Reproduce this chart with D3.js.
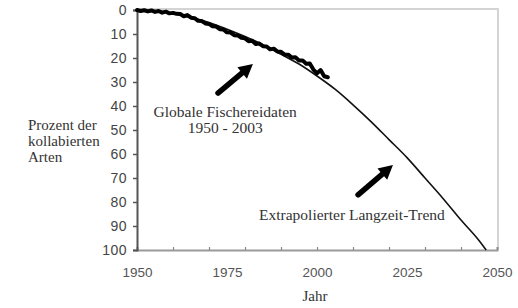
<!DOCTYPE html>
<html><head><meta charset="utf-8">
<script src="https://cdn.jsdelivr.net/npm/d3@7"></script>
<style>body{margin:0;background:#fff}svg{display:block}</style>
</head><body>
<svg id="c" width="518" height="308"></svg>
<script>
// Data
const dataYears = [1950,1951,1952,1953,1954,1955,1956,1957,1958,1959,1960,1961,1962,1963,1964,1965,1966,1967,1968,1969,1970,1971,1972,1973,1974,1975,1976,1977,1978,1979,1980,1981,1982,1983,1984,1985,1986,1987,1988,1989,1990,1991,1992,1993,1994,1995,1996,1997,1998,1999,2000,2001,2002,2003];
const dataPct   = [0,0.4,0.1,0.6,0.2,0.8,0.4,1.1,0.7,1.4,1.2,1.6,1.7,2.6,2.1,3.2,3.4,4.5,4.6,5.6,5.8,6.8,6.9,8.0,8.1,9.3,9.4,10.5,10.6,11.6,11.8,13.0,12.8,14.2,14.0,15.1,15.2,16.4,16.1,17.3,17.4,18.6,18.6,19.8,19.7,21.0,21.0,22.4,22.3,24.8,26.4,25.0,27.6,28.0];
const trendYears = [1950,1955,1960,1965,1970,1975,1980,1985,1990,1995,2000,2005,2010,2015,2020,2025,2030,2035,2040,2045,2047];
const trendPct   = [0,0.4,1.4,3,5.2,8,11,14.5,18.5,22.5,27.5,33,39.5,46.5,54,61.5,70,78.5,87.5,96,100];
const xTickYears = [1950,1960,1970,1980,1990,2000,2010,2020,2030,2040,2050];
const xLabelYears = [1950,1975,2000,2025,2050];
const yTicks = [0,10,20,30,40,50,60,70,80,90,100];
const yLabelLines = ["Prozent der","kollabierten","Arten"];
const xTitle = "Jahr";
// annotations: [text lines, year, pct]
const noteData = {lines:["Globale Fischereidaten","1950 - 2003"], year:1974.5, pct:42.5};
const noteTrend = {lines:["Extrapolierter Langzeit-Trend"], year:2009.7, pct:85.5};
const arrows = [
  {fromYear:1972.5, fromPct:34.6, toYear:1982.2, toPct:22.5},
  {fromYear:2011.4, fromPct:77, toYear:2021.1, toPct:64.6}
];

const svg = d3.select("#c");
const m = {l:137, t:10, w:360, h:240};
const x = d3.scaleLinear().domain([1950,2050]).range([m.l, m.l+m.w]);
const y = d3.scaleLinear().domain([0,100]).range([m.t, m.t+m.h]);

// frame (top and right)
svg.append("path")
  .attr("d", `M${m.l},${m.t-1}H${m.l+m.w+1}V${m.t+m.h}`)
  .attr("fill","none").attr("stroke","#d4d4d4").attr("stroke-width",2);

// x axis ticks (inward)
const xAx = svg.append("g").attr("transform",`translate(0,${m.t+m.h})`)
  .call(d3.axisBottom(x).tickValues(xTickYears).tickSize(-3).tickFormat(""));
xAx.select(".domain").attr("stroke","#9a9a9a").attr("stroke-width",2);
xAx.selectAll(".tick line").attr("stroke","#888").attr("stroke-width",1.2);

// x axis labels
const xLab = svg.append("g").attr("transform",`translate(0,${m.t+m.h})`)
  .call(d3.axisBottom(x).tickValues(xLabelYears).tickSize(0).tickPadding(17).tickFormat(d3.format("d")));
xLab.select(".domain").remove();
xLab.selectAll("text").attr("font-family","Liberation Sans, Arial, sans-serif").attr("font-size",13.5).attr("fill","#555");

// y axis
const yAx = svg.append("g").attr("transform",`translate(${m.l},0)`)
  .call(d3.axisLeft(y).tickValues(yTicks).tickSize(4).tickPadding(6));
yAx.select(".domain").attr("stroke","#555").attr("stroke-width",2);
yAx.selectAll(".tick line").attr("stroke","#555").attr("stroke-width",1.5);
yAx.selectAll("text").attr("font-family","Liberation Sans, Arial, sans-serif").attr("font-size",14).attr("fill","#444").attr("letter-spacing",0.5);

// y label
const serif = "Liberation Serif, Times New Roman, serif";
svg.append("text").attr("x",28).attr("y",130)
  .attr("font-family",serif).attr("font-size",15).attr("fill","#333")
  .selectAll("tspan").data(yLabelLines).join("tspan")
  .attr("x",28).attr("dy",(d,i)=>i?16:0).text(d=>d);

// x title
svg.append("text").attr("x",x(2000)-2).attr("y",301).attr("text-anchor","middle")
  .attr("font-family",serif).attr("font-size",15).attr("fill","#333").text(xTitle);

// trend line
const line = d3.line().x(d=>x(d[0])).y(d=>y(d[1])).curve(d3.curveMonotoneX);
svg.append("path").datum(d3.zip(trendYears,trendPct)).attr("d",line)
  .attr("fill","none").attr("stroke","#111").attr("stroke-width",1.6);

// data line
svg.append("path").datum(d3.zip(dataYears,dataPct)).attr("d",d3.line().x(d=>x(d[0])).y(d=>y(d[1])))
  .attr("fill","none").attr("stroke","#000").attr("stroke-width",4).attr("stroke-linejoin","round").attr("stroke-linecap","round");

// arrows
arrows.forEach(a=>{
  const x1=x(a.fromYear), y1=y(a.fromPct), x2=x(a.toYear), y2=y(a.toPct);
  const ang=Math.atan2(y2-y1,x2-x1), L=14, W=7.5;
  const bx=x2-L*Math.cos(ang), by=y2-L*Math.sin(ang);
  svg.append("line").attr("x1",x1).attr("y1",y1).attr("x2",bx).attr("y2",by)
    .attr("stroke","#000").attr("stroke-width",5.5).attr("stroke-linecap","round");
  const px=-Math.sin(ang), py=Math.cos(ang);
  svg.append("path").attr("d",`M${x2},${y2}L${bx+px*W},${by+py*W}L${bx-px*W},${by-py*W}Z`).attr("fill","#000");
});

// annotations
[noteData, noteTrend].forEach(n=>{
  svg.append("text").attr("text-anchor","middle")
    .attr("font-family",serif).attr("font-size",15.5).attr("fill","#333")
    .selectAll("tspan").data(n.lines).join("tspan")
    .attr("x",x(n.year)).attr("y",(d,i)=>y(n.pct)+5+i*16).text(d=>d);
});
</script>
</body></html>
